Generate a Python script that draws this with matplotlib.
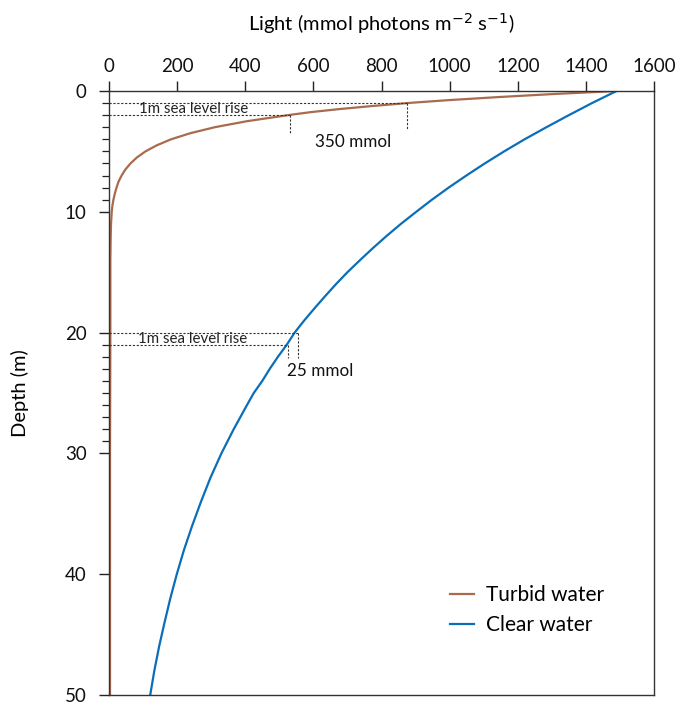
import matplotlib
matplotlib.use("Agg")
import matplotlib.pyplot as plt
from matplotlib.ticker import FixedLocator

plt.rcParams['font.family'] = ['Lato', 'DejaVu Sans']

# Data
turbid_depth = [0, 0.25, 0.5, 0.75, 1, 1.25, 1.5, 1.75, 2, 2.5, 3, 3.5, 4, 4.5, 5,
                5.5, 6, 6.5, 7, 7.5, 8, 8.5, 9, 9.5, 10, 11, 12, 14, 20, 30, 40, 50]
turbid_light = [1490, 1305, 1145, 1000, 875, 770, 675, 592, 525, 405, 310, 238, 182, 140, 107,
                82, 63, 48, 37, 28, 22, 17, 13, 10, 8, 6, 5, 4, 4, 3, 3, 3]

clear_depth = [0, 1, 2, 3, 4, 5, 6, 7, 8, 9, 10, 11, 12, 13, 14, 15, 16, 17, 18, 19, 20, 21,
               22, 23, 24, 25, 26, 28, 30, 32, 34, 36, 38, 40, 42, 44, 46, 48, 50]
clear_light = [1490, 1418, 1350, 1284, 1220, 1160, 1103, 1049, 997, 948, 902, 857, 815, 775,
               737, 700, 666, 634, 603, 573, 545, 522, 496, 472, 450, 425, 405, 366, 330,
               298, 270, 244, 220, 199, 180, 163, 147, 133, 121]

x_ticks = [0, 200, 400, 600, 800, 1000, 1200, 1400, 1600]
y_ticks = [0, 10, 20, 30, 40, 50]
y_minor = [1, 2, 3, 4, 5, 6, 7, 8, 9, 21, 22, 23, 24, 25, 26, 27, 28, 29]

# annotations
turbid_ann = dict(d1=1, d2=2, x1=875, x2=532, v1_end=3.25, v2_end=3.5,
                  label="350 mmol", lx=605, ld=4.2, tx=88)
clear_ann = dict(d1=20, d2=21, x1=555, x2=526, v1_end=22.1, v2_end=22.1,
                 label="25 mmol", lx=522, ld=23.2, tx=86)

turbid_color = "#a86b4d"
clear_color = "#0a6eb8"

fig = plt.figure(figsize=(6.79, 7.06), dpi=100)
ax = fig.add_axes([109/679, 1 - 695/706, (654-109)/679, (695-91)/706])

ax.plot(turbid_light, turbid_depth, color=turbid_color, lw=1.6, label="Turbid water")
ax.plot(clear_light, clear_depth, color=clear_color, lw=1.6, label="Clear water")

dash = (0, (2, 1.5))
for a in (turbid_ann, clear_ann):
    ax.plot([0, a['x1']], [a['d1'], a['d1']], ls=dash, color='#333333', lw=0.8)
    ax.plot([0, a['x2']], [a['d2'], a['d2']], ls=dash, color='#333333', lw=0.8)
    ax.plot([a['x1'], a['x1']], [a['d1'], a['v1_end']], ls=dash, color='#333333', lw=0.8)
    ax.plot([a['x2'], a['x2']], [a['d2'], a['v2_end']], ls=dash, color='#333333', lw=0.8)
    ax.text(a['tx'], a['d2'] + 0.08, "1m sea level rise", fontsize=10.8, ha='left',
            va='bottom', color='#222222')
    ax.text(a['lx'], a['ld'], a['label'], fontsize=12.3, ha='left', va='center',
            color='#111111')

ax.set_xlim(0, 1600)
ax.set_ylim(50, 0)
ax.xaxis.tick_top()
ax.xaxis.set_label_position('top')
ax.set_xticks(x_ticks)
ax.set_yticks(y_ticks)
ax.yaxis.set_minor_locator(FixedLocator(y_minor))
ax.tick_params(axis='both', which='major', labelsize=13.5, direction='out', length=7.2, width=1,
               colors='#222222', labelcolor='#111111')
ax.tick_params(axis='y', which='minor', direction='out', length=5, width=0.9, colors='#222222')
ax.tick_params(axis='x', which='major', pad=4)
ax.tick_params(axis='y', which='major', pad=9)
for s in ax.spines.values():
    s.set_linewidth(1.0)
    s.set_color('#333333')

ax.set_xlabel("Light (mmol photons m$^{-2}$ s$^{-1}$)", fontsize=14.5, labelpad=20)
ax.set_ylabel("Depth (m)", fontsize=14.5, labelpad=26)

ax.legend(loc='lower right', bbox_to_anchor=(0.943, 0.068), frameon=False, fontsize=15,
          handlelength=1.15, handletextpad=0.6, labelspacing=0.48)

fig.savefig("out.png", dpi=100)
